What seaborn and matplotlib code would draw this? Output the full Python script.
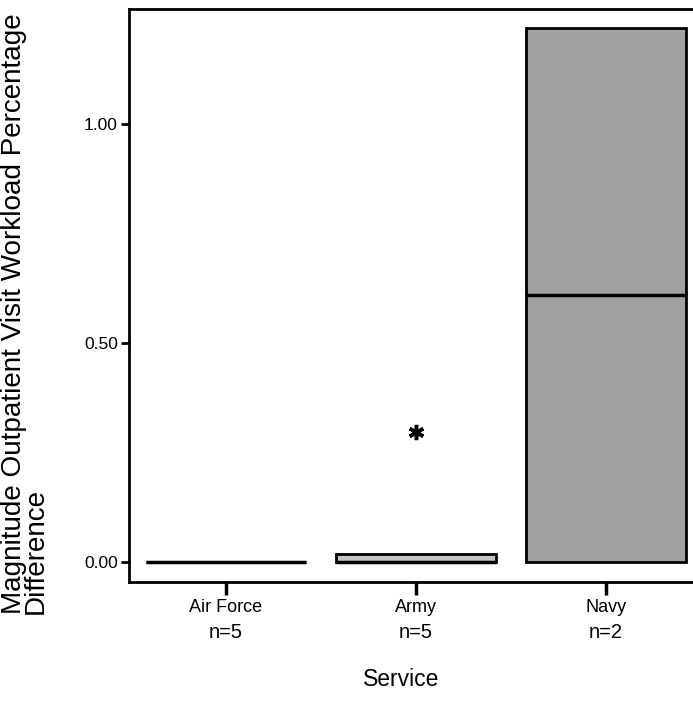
import numpy as np
import pandas as pd
import matplotlib
matplotlib.use("Agg")
import matplotlib.pyplot as plt
import matplotlib.cbook
import seaborn as sns

# ---- data -------------------------------------------------------------
services = ["Air Force", "Army", "Navy"]
air_force = [0.0, 0.0, 0.0, 0.0, 0.0]
army = [0.0, 0.0, 0.0, 0.018, 0.297]
navy = [0.0, 1.22]
yticks = [0.0, 0.5, 1.0]
ytick_labels = ["0.00", "0.50", "1.00"]
box_colors = {"Air Force": "#b0b0b0", "Army": "#c4c4c4", "Navy": "#a0a0a0"}

values = {"Air Force": air_force, "Army": army, "Navy": navy}
df = pd.DataFrame(
    [(s, v) for s in services for v in values[s]], columns=["Service", "Value"]
)

# SPSS-style boxplots use Tukey hinges for the box edges
_mpl_stats = matplotlib.cbook.boxplot_stats


def tukey_boxplot_stats(X, whis=1.5, bootstrap=None, labels=None, autorange=False):
    out = _mpl_stats(X, whis=whis, bootstrap=bootstrap, labels=labels,
                     autorange=autorange)
    for st, x in zip(out, X):
        v = np.sort(np.asarray(x, float))
        n = len(v)
        q1 = np.median(v[: (n + 1) // 2])
        q3 = np.median(v[n // 2:])
        iqr = q3 - q1
        inside = v[(v >= q1 - whis * iqr) & (v <= q3 + whis * iqr)]
        st.update(q1=q1, q3=q3, iqr=iqr, whislo=inside.min(),
                  whishi=inside.max(),
                  fliers=v[(v < inside.min()) | (v > inside.max())])
    return out


matplotlib.cbook.boxplot_stats = tukey_boxplot_stats

# ---- figure -----------------------------------------------------------
sns.set_style("ticks")
plt.rcParams["font.family"] = ["Liberation Sans", "DejaVu Sans"]
plt.rcParams["text.color"] = "black"

W, H = 693, 711
fig = plt.figure(figsize=(W / 100, H / 100), dpi=100)
ax = fig.add_axes([129 / W, (H - 582) / H, (703 - 129) / W, (582 - 9) / H])

sns.boxplot(
    data=df, x="Service", y="Value", hue="Service", order=services,
    hue_order=services, palette=box_colors, legend=False, dodge=False,
    width=0.84, linewidth=2, linecolor="black", showcaps=False, whis=1.5,
    flierprops=dict(marker=(6, 2, 0), markersize=11, markerfacecolor="black",
                    markeredgecolor="black", markeredgewidth=2.5),
    medianprops=dict(color="black", linewidth=2.5),
    ax=ax,
)

ax.set_xlim(-0.51, 2.51)
ax.set_ylim(-0.0457, 1.2626)
ax.set_yticks(yticks)
ax.set_yticklabels(ytick_labels, fontsize=12.5)
ax.set_xticks(range(len(services)))
ax.set_xticklabels(services, fontsize=13)
ax.tick_params(axis="x", length=9, width=2.5, pad=3, colors="black")
ax.tick_params(axis="y", length=6, width=2, pad=2, colors="black")
ax.set_xlabel("")
ax.set_ylabel("")
for side in ["left", "top", "bottom", "right"]:
    ax.spines[side].set_visible(True)
    ax.spines[side].set_color("black")
    ax.spines[side].set_linewidth(2)

# n= labels under each category
for i, s in enumerate(services):
    ax.text(i, -0.088, f"n={len(values[s])}", transform=ax.get_xaxis_transform(),
            ha="center", va="center", fontsize=14.5, color="black")

fig.text(401 / W, (H - 680) / H, "Service", ha="center", va="center",
         fontsize=16.5, color="black")
fig.text(1 / W, (H - 614) / H,
         "Magnitude Outpatient Visit Workload Percentage\nDifference",
         rotation=90, ha="left", va="bottom", multialignment="left",
         fontsize=20.1, linespacing=0.8, color="black")

fig.savefig("out.png", dpi=100, facecolor="white")
